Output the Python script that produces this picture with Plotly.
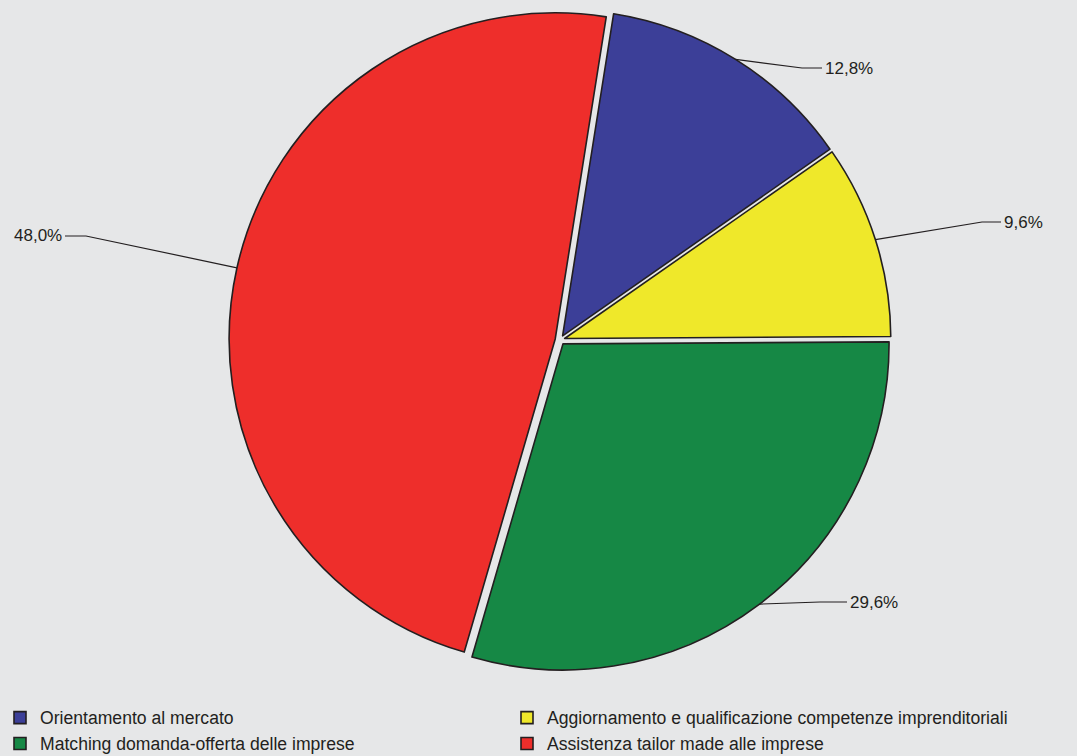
import math
import plotly.graph_objects as go

# ---- data ----
categories = [
    "Orientamento al mercato",
    "Aggiornamento e qualificazione competenze imprenditoriali",
    "Matching domanda-offerta delle imprese",
    "Assistenza tailor made alle imprese",
]
values = [12.8, 9.6, 29.6, 48.0]
value_labels = ["12,8%", "9,6%", "29,6%", "48,0%"]

# ---- style / layout ----
colors = ["#3c3f98", "#efe82a", "#168845", "#ee2e2b"]
edge_color = "#231f20"
text_color = "#231f20"
bg = "#e6e7e8"
W, H = 1077, 756
rotation = 9
pull = 0.015
cx_px, cy_px, box_px = 560, 340, 662
font_family = "Liberation Sans, Arial, sans-serif"

# label placement (pixels): elbow point, end of horizontal tick, text side
label_layout = [
    ((802, 68), (822, 68), "left"),
    ((982, 222), (1001, 222), "left"),
    ((820, 602), (847, 602), "left"),
    ((86, 236), (65, 236), "right"),
]

dom_x = [(cx_px - box_px / 2) / W, (cx_px + box_px / 2) / W]
dom_y = [1 - (cy_px + box_px / 2) / H, 1 - (cy_px - box_px / 2) / H]

fig = go.Figure(
    go.Pie(
        labels=categories,
        values=values,
        sort=False,
        direction="clockwise",
        rotation=rotation,
        pull=[pull] * len(values),
        marker=dict(colors=colors, line=dict(color=edge_color, width=1.6)),
        textinfo="none",
        hovertemplate="%{label}: %{value:.1f}%<extra></extra>",
        domain=dict(x=dom_x, y=dom_y),
    )
)

# leader lines + labels, anchored on each slice's mid angle
def px_to_paper(x, y):
    return x / W, 1 - y / H

r = box_px / (2 * (1 + pull))
total = sum(values)
cum = 0.0
shapes, annotations = [], []
for v, lab, (elbow, end, side) in zip(values, value_labels, label_layout):
    mid = math.radians(rotation + (cum + v / 2) / total * 360)
    cum += v
    ax = cx_px + r * (1 + pull) * math.sin(mid)
    ay = cy_px - r * (1 + pull) * math.cos(mid)
    p0 = px_to_paper(ax, ay)
    p1 = px_to_paper(*elbow)
    p2 = px_to_paper(*end)
    shapes.append(dict(
        type="path", xref="paper", yref="paper",
        path=f"M {p0[0]},{p0[1]} L {p1[0]},{p1[1]} L {p2[0]},{p2[1]}",
        line=dict(color=edge_color, width=1.2),
    ))
    annotations.append(dict(
        x=p2[0], y=p2[1], xref="paper", yref="paper",
        text=lab, showarrow=False,
        xanchor="left" if side == "left" else "right", yanchor="middle",
        font=dict(size=17, color=text_color, family=font_family),
        xshift=1 if side == "left" else -1,
    ))

fig.update_layout(
    width=W, height=H,
    margin=dict(l=0, r=0, t=0, b=0, autoexpand=False),
    paper_bgcolor=bg, plot_bgcolor=bg,
    shapes=shapes, annotations=annotations,
    showlegend=True,
    legend=dict(
        orientation="h", x=0.0, xanchor="left", y=0.0745, yanchor="top",
        entrywidth=462, entrywidthmode="pixels",
        font=dict(size=17.6, color=text_color, family=font_family),
        bgcolor="rgba(0,0,0,0)", traceorder="normal",
    ),
    font=dict(family=font_family, color=text_color),
)

fig.write_html("out.html")
